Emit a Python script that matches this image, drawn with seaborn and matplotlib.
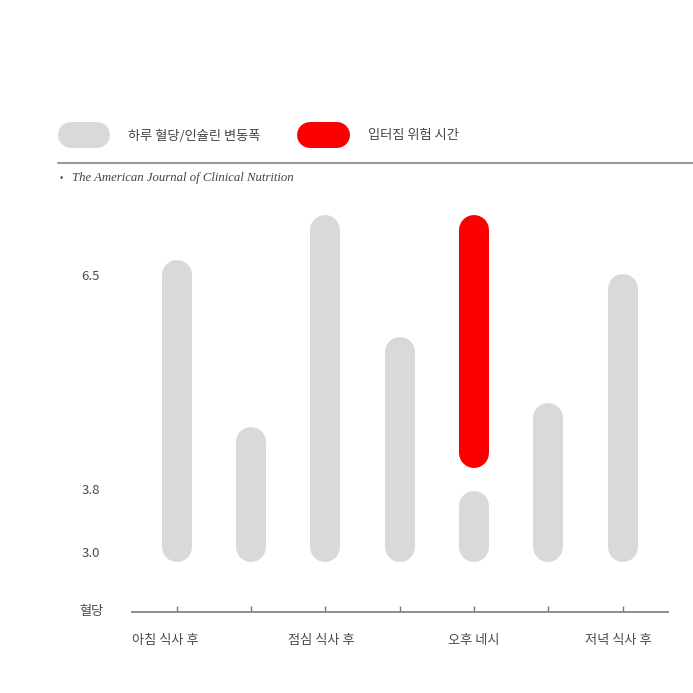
import numpy as np
import pandas as pd
import matplotlib
matplotlib.use("Agg")
import matplotlib.pyplot as plt
from matplotlib.lines import Line2D
from matplotlib.transforms import ScaledTranslation
import seaborn as sns

# data
time_labels = ["아침 식사 후", "", "점심 식사 후", "", "오후 네시", "", "저녁 식사 후"]
positions = [0, 1, 2, 3, 4, 5, 6]
grey_low = [3.06, 3.06, 3.06, 3.06, 3.06, 3.06, 3.06]
grey_high = [6.50, 4.39, 7.07, 5.53, 3.58, 4.69, 6.32]
red_pos = [4]
red_low = [4.25]
red_high = [7.07]
ytick_values = [3.0, 3.8, 6.5]
ytick_labels = ["3.0", "3.8", "6.5"]
legend_labels = ["하루 혈당/인슐린 변동폭", "입터짐 위험 시간"]
source_text = "The American Journal of Clinical Nutrition"

GREY = "#d9d9d9"
RED = "#fb0000"
TEXT = "#4a4a4a"

sns.set_theme(style="white")
plt.rcParams["font.family"] = ["Noto Sans CJK KR", "DejaVu Sans"]

# long table: two rows (low/high) per bar
rows = []
for i, (p, lo, hi) in enumerate(zip(positions, grey_low, grey_high)):
    rows.append({"pos": p, "val": lo, "bar": "g%d" % i, "kind": "grey"})
    rows.append({"pos": p, "val": hi, "bar": "g%d" % i, "kind": "grey"})
for i, (p, lo, hi) in enumerate(zip(red_pos, red_low, red_high)):
    rows.append({"pos": p, "val": lo, "bar": "r%d" % i, "kind": "red"})
    rows.append({"pos": p, "val": hi, "bar": "r%d" % i, "kind": "red"})
df = pd.DataFrame(rows)

fig = plt.figure(figsize=(6.93, 6.93), dpi=100)
W = H = 693.0
ax = fig.add_axes([132 / W, (H - 612) / H, 536 / W, 412 / H])

sns.lineplot(data=df, x="pos", y="val", units="bar", estimator=None,
             hue="kind", palette={"grey": GREY, "red": RED},
             sort=False, legend=False, ax=ax,
             linewidth=21.6, solid_capstyle="round")
for ln in ax.get_lines():
    ln.set_clip_on(False)

ax.set_xlim(-0.6, 6.61)
ax.set_ylim(2.24, 7.45)
ax.set_xlabel("")
ax.set_ylabel("")

for s in ["top", "right", "left"]:
    ax.spines[s].set_visible(False)
ax.spines["bottom"].set_color("#8c8c8c")
ax.spines["bottom"].set_linewidth(1.4)

ax.set_xticks(positions)
ax.set_xticklabels(time_labels, fontsize=9.5, color=TEXT)
ax.tick_params(axis="x", direction="in", length=4, width=1, color="#777777",
               pad=15.5, bottom=True)
# labels sit a little left of their ticks in the original
shifts = [-11, 0, -4, 0, 0, 0, -4]
for lab, dx in zip(ax.get_xticklabels(), shifts):
    lab.set_transform(lab.get_transform() + ScaledTranslation(dx / 100, 0, fig.dpi_scale_trans))

ax.set_yticks(ytick_values)
ax.set_yticklabels(ytick_labels, fontsize=9.5, color=TEXT)
ax.tick_params(axis="y", length=0, pad=23)

fig.text(91 / W, 1 - 612 / H, "혈당", ha="center", va="center",
         fontsize=9.5, color=TEXT)

# legend pills on top
fig.add_artist(Line2D([71 / W, 97 / W], [1 - 135 / H] * 2, color=GREY,
                      linewidth=18.7, solid_capstyle="round"))
fig.text(128 / W, 1 - 136 / H, legend_labels[0], ha="left", va="center",
         fontsize=9.5, color="#444444")
fig.add_artist(Line2D([310 / W, 337 / W], [1 - 135 / H] * 2, color=RED,
                      linewidth=18.7, solid_capstyle="round"))
fig.text(368 / W, 1 - 136 / H, legend_labels[1], ha="left", va="center",
         fontsize=9.5, color="#444444")

fig.add_artist(Line2D([58 / W, 1.0], [1 - 163 / H] * 2, color="#9a9a9a",
                      linewidth=1.5))
fig.text(60 / W, 1 - 178 / H, "•", ha="left", va="center", fontsize=7,
         color="#444444")
fig.text(72 / W, 1 - 178 / H, source_text, ha="left", va="center",
         fontsize=9.2, color="#444444", family=["Liberation Serif"],
         style="italic")

fig.savefig("out.png", dpi=100)
